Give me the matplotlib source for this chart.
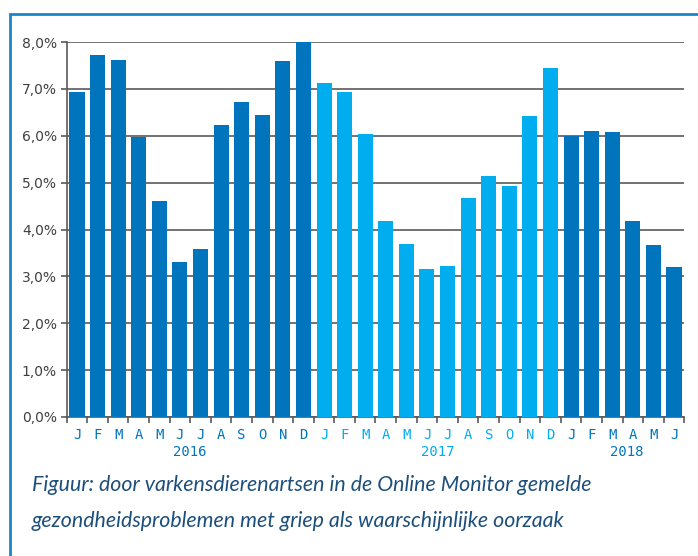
import matplotlib.pyplot as plt
from matplotlib.patches import Rectangle
from matplotlib.ticker import FixedLocator, NullFormatter

months = ["J", "F", "M", "A", "M", "J", "J", "A", "S", "O", "N", "D"] * 2 + ["J", "F", "M", "A", "M", "J"]
years = ["2016", "2017", "2018"]
year_of_bar = [0] * 12 + [1] * 12 + [2] * 6
values = [6.93, 7.72, 7.61, 5.97, 4.61, 3.30, 3.58, 6.23, 6.72, 6.44, 7.59, 8.0,
          7.12, 6.93, 6.04, 4.18, 3.69, 3.16, 3.22, 4.67, 5.14, 4.93, 6.42, 7.44,
          6.00, 6.10, 6.08, 4.18, 3.67, 3.20]

dark = "#0075bd"
light = "#00aeef"
year_colors = [dark, light, dark]
caption = ["Figuur: door varkensdierenartsen in de Online Monitor gemelde",
           "gezondheidsproblemen met griep als waarschijnlijke oorzaak"]

fig = plt.figure(figsize=(6.98, 5.56), dpi=100)
ax = fig.add_axes([66.7 / 698, 1 - 417 / 556, (684.3 - 66.7) / 698, (417 - 42) / 556])

x = list(range(len(values)))
colors = [year_colors[y] for y in year_of_bar]
ax.bar(x, values, width=0.73, color=colors, zorder=3)

ax.set_xlim(-0.5, len(values) - 0.5)
ax.set_ylim(0, 8)
ax.set_yticks([i for i in range(9)])
ax.set_yticklabels([f"{i},0%" for i in range(9)], fontsize=10, color="#404040")
ax.yaxis.grid(True, color="#5a5a5a", linewidth=1.2, zorder=1)

ax.set_xticks(x)
ax.set_xticklabels(months, fontsize=10, family="DejaVu Sans Mono")
for lab, y in zip(ax.get_xticklabels(), year_of_bar):
    lab.set_color(year_colors[y])
ax.tick_params(axis="x", which="major", length=0, pad=8)
ax.xaxis.set_minor_locator(FixedLocator([i - 0.5 for i in range(len(values) + 1)]))
ax.xaxis.set_minor_formatter(NullFormatter())
ax.tick_params(axis="x", which="minor", length=4, color="#5a5a5a", width=1.2)
ax.tick_params(axis="y", length=4, color="#5a5a5a", width=1.2, pad=3)

for s in ["top", "right"]:
    ax.spines[s].set_visible(False)
for s in ["left", "bottom"]:
    ax.spines[s].set_color("#5a5a5a")
    ax.spines[s].set_linewidth(1.2)

year_centers = [5.5, 17.5, 26.7]
for yr, cx, c in zip(years, year_centers, year_colors):
    ax.text(cx, -0.75, yr, ha="center", va="center", fontsize=10, color=c,
            family="DejaVu Sans Mono")

for line, ybase in zip(caption, [491, 527]):
    fig.text(32 / 698, 1 - ybase / 556, line, ha="left", va="baseline", fontsize=15.4,
             style="italic", family="Lato", color="#1d4f7c")

fig.patches.append(Rectangle((10 / 698, -0.1), 1.2, 1 - 14 / 556 + 0.1,
                             transform=fig.transFigure, fill=False,
                             edgecolor="#1a86c9", linewidth=2))

fig.savefig("out.png", dpi=100)
